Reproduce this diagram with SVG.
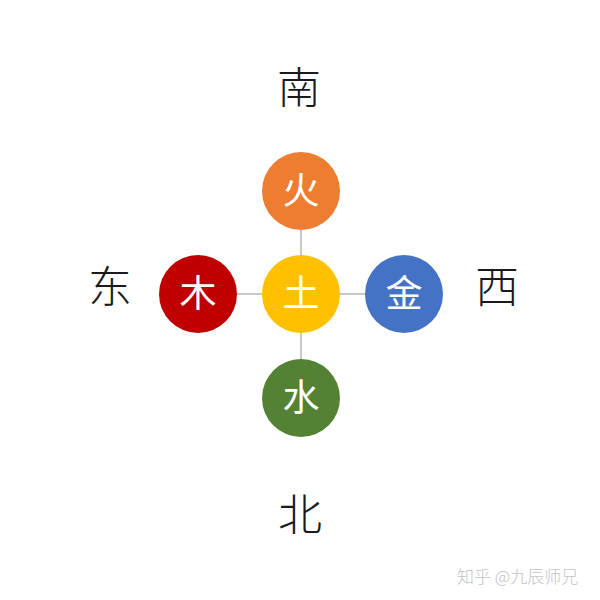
<svg xmlns="http://www.w3.org/2000/svg" width="600" height="600" viewBox="0 0 600 600">
<style>
.dir{font-family:"Noto Sans CJK SC","Noto Sans",sans-serif;font-size:44px;font-weight:300;fill:#1a1a1a;text-anchor:middle}
.el{font-family:"Noto Sans CJK SC","Noto Sans",sans-serif;font-size:37px;font-weight:400;fill:#ffffff;text-anchor:middle}
.wm{font-family:"Noto Sans CJK SC","Noto Sans",sans-serif;font-size:17px;font-weight:300;fill:#c4c4c4}
.ln{stroke:#c8c8c8;stroke-width:2;fill:none}
</style>
<rect width="600" height="600" fill="#ffffff"/>
<g id="connectors">
<line class="ln" x1="301" y1="228" x2="301" y2="361"/>
<line class="ln" x1="236" y1="294" x2="366" y2="294"/>
</g>
<g id="fire"><circle cx="301" cy="191" r="39" fill="#ED7D31"/><text class="el" x="301" y="204">火</text></g>
<g id="wood"><circle cx="198" cy="294" r="39" fill="#C00000"/><text class="el" x="198" y="307">木</text></g>
<g id="earth"><circle cx="301" cy="294" r="39" fill="#FFC000"/><text class="el" x="301" y="307">土</text></g>
<g id="metal"><circle cx="404" cy="294" r="39" fill="#4472C4"/><text class="el" x="404" y="307">金</text></g>
<g id="water"><circle cx="301" cy="398" r="39" fill="#548235"/><text class="el" x="301" y="411">水</text></g>
<g id="south"><text class="dir" x="299" y="104">南</text></g>
<g id="east"><text class="dir" x="110" y="303">东</text></g>
<g id="west"><text class="dir" x="497" y="303">西</text></g>
<g id="north"><text class="dir" x="300" y="531">北</text></g>
<text class="wm" x="457" y="583">知乎 @九辰师兄</text>
</svg>
